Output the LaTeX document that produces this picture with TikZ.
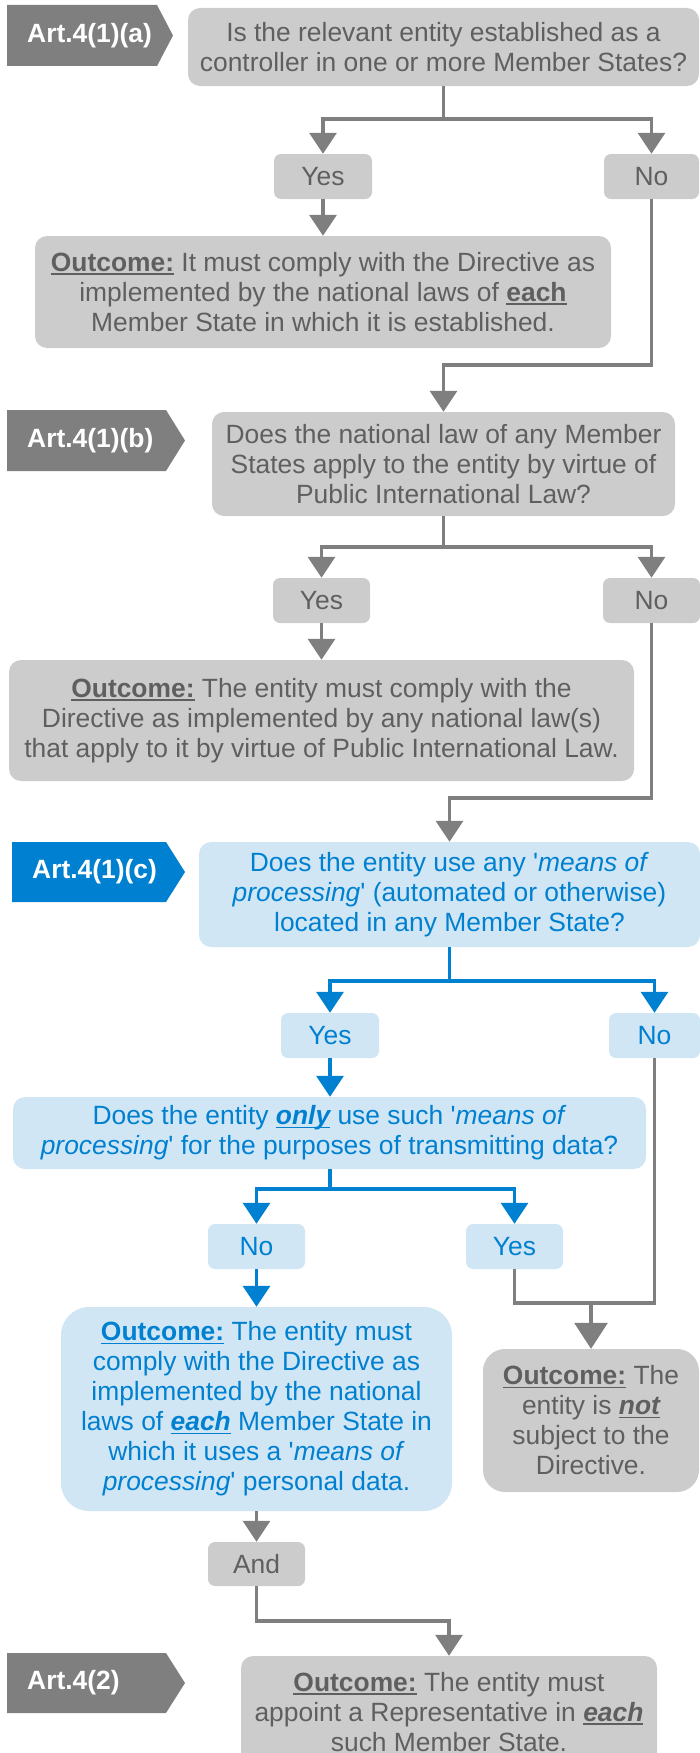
\documentclass[tikz,border=0pt]{standalone}
\usepackage{fontspec}
\setmainfont{Liberation Sans}[Ligatures=TeXOff]
\usetikzlibrary{arrows.meta}
\definecolor{gfill}{HTML}{CCCCCC}
\definecolor{gtext}{HTML}{5F5F5F}
\definecolor{gline}{HTML}{7F7F7F}
\definecolor{bfill}{HTML}{D1E6F4}
\definecolor{btext}{HTML}{0080D0}
\definecolor{bline}{HTML}{0080D0}
\newcommand{\myul}[1]{\leavevmode\sbox0{#1}\rlap{\rule[-3.5pt]{\wd0}{1.8pt}}\usebox0}
\newcommand{\oc}{\textbf{\myul{Outcome:}}}
\tikzset{
  base/.style={rectangle, rounded corners=12pt, inner sep=0pt, align=center,
    font=\fontsize{26.4}{30}\selectfont},
  gbox/.style={base, fill=gfill, text=gtext},
  bbox/.style={base, fill=bfill, text=btext},
  small/.style={rounded corners=7pt, minimum width=97pt, minimum height=45pt},
  conn/.style={line width=3.2pt, draw=gline},
  bconn/.style={line width=3.2pt, draw=bline},
  garr/.style={conn, -{Triangle[width=27pt,length=21pt]}},
  barr/.style={bconn, -{Triangle[width=27pt,length=21pt]}},
  bigarr/.style={conn, -{Triangle[width=33pt,length=26pt]}},
  tagtext/.style={anchor=west, text=white, inner sep=0pt,
    font=\fontsize{26.4}{30}\selectfont\bfseries},
}
\begin{document}
\begin{tikzpicture}[x=1pt,y=-1pt]
\useasboundingbox (0,0) rectangle (700,1753);
\clip (0,0) rectangle (700,1753);

% tags
\fill[gline] (7,5) -- (157,5) -- (173,35.5) -- (157,66) -- (7,66) -- cycle;
\node[tagtext] (tagA) at (27,35.5) {Art.4(1)(a)};
\fill[gline] (7,410) -- (166,410) -- (185,440.5) -- (166,471) -- (7,471) -- cycle;
\node[tagtext] (tagB) at (27,440.5) {Art.4(1)(b)};
\fill[bline] (12,842) -- (166,842) -- (185,872) -- (166,902) -- (12,902) -- cycle;
\node[tagtext] (tagC) at (32,872) {Art.4(1)(c)};
\fill[gline] (7,1653) -- (166,1653) -- (185,1683) -- (166,1713) -- (7,1713) -- cycle;
\node[tagtext] (tagD) at (27,1683) {Art.4(2)};

% section a
\node[gbox, minimum width=511pt, minimum height=78pt] (qA) at (443.5,47)
  {Is the relevant entity established as a\\controller in one or more Member States?};
\node[gbox, small, minimum width=98pt] (yesA) at (323,176.5) {Yes};
\node[gbox, small, minimum width=95pt] (noA) at (651.5,176.5) {No};
\node[gbox, minimum width=576pt, minimum height=112pt] (outA) at (323,292)
  {\oc{} It must comply with the Directive as\\implemented by the national laws of \textbf{\myul{each}}\\Member State in which it is established.};

% section b
\node[gbox, minimum width=463pt, minimum height=104pt] (qB) at (443.5,464)
  {Does the national law of any Member\\States apply to the entity by virtue of\\Public International Law?};
\node[gbox, small] (yesB) at (321.5,600.5) {Yes};
\node[gbox, small] (noB) at (651.5,600.5) {No};
\node[gbox, minimum width=625pt, minimum height=121pt] (outB) at (321.5,720.5)
  {\oc{} The entity must comply with the\\Directive as implemented by any national law(s)\\that apply to it by virtue of Public International Law.};

% section c
\node[bbox, minimum width=501pt, minimum height=105pt] (qC) at (449.5,894.5)
  {Does the entity use any '\textit{means of}\\\textit{processing}' (automated or otherwise)\\located in any Member State?};
\node[bbox, small, minimum width=98pt] (yesC) at (330,1035.5) {Yes};
\node[bbox, small, minimum width=91pt] (noC) at (654.5,1035.5) {No};
\node[bbox, minimum width=633pt, minimum height=72pt] (q2) at (329.5,1133)
  {Does the entity \textbf{\textit{\myul{only}}} use such '\textit{means of}\\\textit{processing}' for the purposes of transmitting data?};
\node[bbox, small] (noD) at (256.5,1246.5) {No};
\node[bbox, small] (yesD) at (514.5,1246.5) {Yes};
\node[bbox, rounded corners=28pt, minimum width=391pt, minimum height=204pt] (outC) at (256.5,1409)
  {\oc{} The entity must\\comply with the Directive as\\implemented by the national\\laws of \textbf{\textit{\myul{each}}} Member State in\\which it uses a '\textit{means of}\\\textit{processing}' personal data.};
\node[gbox, rounded corners=22pt, minimum width=216pt, minimum height=143pt] (outNot) at (591,1420.5)
  {\oc{} The\\entity is \textbf{\textit{\myul{not}}}\\subject to the\\Directive.};
\node[gbox, small, minimum height=44pt] (andN) at (256.5,1564) {And};
\node[gbox, minimum width=416pt, minimum height=112pt] (outF) at (449,1712)
  {\oc{} The entity must\\appoint a Representative in \textbf{\textit{\myul{each}}}\\such Member State.};

% connectors a
\coordinate (jA) at (443.5,119);
\draw[conn] (qA.south) -- (jA);
\draw[garr] (jA) -| (yesA.north);
\draw[garr] (jA) -| (noA.north);
\draw[garr] (yesA.south) -- (yesA.south |- outA.north);
\coordinate (kA) at (443.5,365);
\draw[garr] (noA.south) |- (kA) -- (qB.north);

% connectors b
\coordinate (jB) at (443.5,547);
\draw[conn] (qB.south) -- (jB);
\draw[garr] (jB) -| (yesB.north);
\draw[garr] (jB) -| (noB.north);
\draw[garr] (yesB.south) -- (yesB.south |- outB.north);
\coordinate (kB) at (449.5,798);
\draw[garr] (noB.south) |- (kB) -- (qC.north);

% connectors c
\coordinate (jC) at (449.5,981);
\draw[bconn] (qC.south) -- (jC);
\draw[barr] (jC) -| (yesC.north);
\draw[barr] (jC) -| (noC.north);
\draw[barr] (yesC.south) -- (yesC.south |- q2.north);
\coordinate (jD) at (330,1189);
\draw[bconn] (q2.south -| jD) -- (jD);
\draw[barr] (jD) -| (noD.north);
\draw[barr] (jD) -| (yesD.north);
\draw[barr] (noD.south) -- (outC.north);
\coordinate (mN) at (591,1303);
\draw[conn] (yesD.south) |- (noC.south |- mN) -- (noC.south);
\draw[bigarr] (mN) -- (outNot.north);
\draw[garr] (outC.south) -- (andN.north);
\coordinate (kF) at (449,1621);
\draw[garr] (andN.south) |- (kF) -- (outF.north);
\end{tikzpicture}
\end{document}
